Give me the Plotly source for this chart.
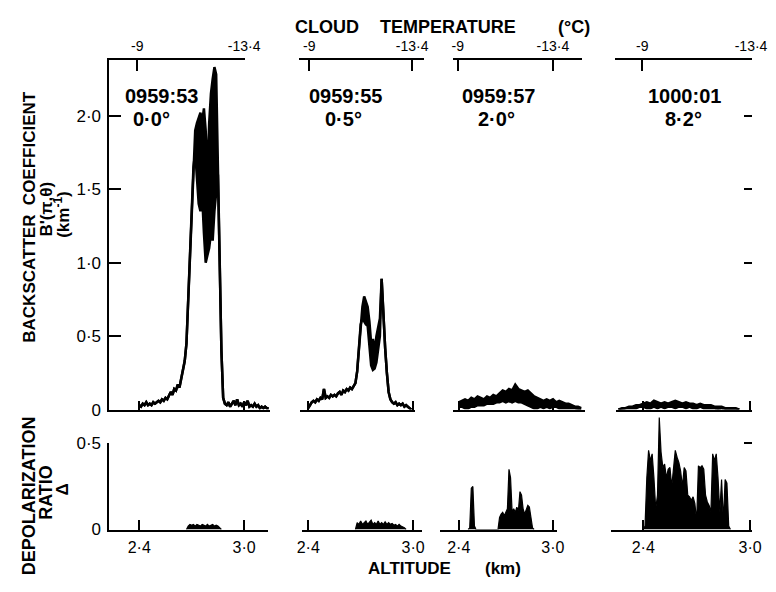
import plotly.graph_objects as go

# ---------------- data ----------------
# Column 1 (0959:53, 0.0 deg) backscatter
alt_bs1 = [2.40, 2.41, 2.42, 2.43, 2.44, 2.45, 2.46, 2.47, 2.48, 2.49,
           2.50, 2.51, 2.52, 2.53, 2.54, 2.55, 2.56, 2.57, 2.58, 2.59,
           2.60, 2.61, 2.62, 2.63, 2.64, 2.65, 2.66, 2.67, 2.68, 2.69,
           2.70, 2.71, 2.72, 2.73, 2.74, 2.75, 2.76, 2.77, 2.78, 2.79,
           2.80, 2.81, 2.82, 2.83, 2.84, 2.85, 2.86, 2.87, 2.88, 2.89,
           2.90, 2.91, 2.92, 2.93, 2.94, 2.95, 2.96, 2.97, 2.98, 2.99,
           3.00, 3.01, 3.02, 3.03, 3.04, 3.05, 3.06, 3.07, 3.08, 3.09,
           3.10, 3.11, 3.12, 3.13, 3.14]
bs1_hi = [0.03, 0.02, 0.04, 0.03, 0.05, 0.03, 0.04, 0.03, 0.05, 0.04,
          0.05, 0.06, 0.05, 0.07, 0.06, 0.08, 0.07, 0.10, 0.12, 0.10,
          0.14, 0.13, 0.17, 0.15, 0.22, 0.28, 0.33, 0.45, 0.75, 1.05,
          1.40, 1.65, 1.90, 1.95, 1.98, 2.02, 1.96, 2.05, 1.90, 1.60,
          1.95, 2.15, 2.25, 2.33, 2.28, 1.60, 1.00, 0.40, 0.08, 0.04,
          0.03, 0.05, 0.02, 0.04, 0.06, 0.03, 0.07, 0.03, 0.04, 0.02,
          0.05, 0.03, 0.06, 0.02, 0.03, 0.02, 0.04, 0.02, 0.03, 0.01,
          0.02, 0.01, 0.02, 0.01, 0.01]
bs1_band_start = 32
bs1_band_lo = [1.75, 1.55, 1.40, 1.35, 1.45, 1.20, 1.00, 1.05, 1.10, 1.20,
               1.15, 1.35, 1.50]

# Column 2 (0959:55, 0.5 deg)
alt_bs2 = [2.40, 2.41, 2.42, 2.43, 2.44, 2.45, 2.46, 2.47, 2.48, 2.49,
           2.50, 2.51, 2.52, 2.53, 2.54, 2.55, 2.56, 2.57, 2.58, 2.59,
           2.60, 2.61, 2.62, 2.63, 2.64, 2.65, 2.66, 2.67, 2.68, 2.69,
           2.70, 2.71, 2.72, 2.73, 2.74, 2.75, 2.76, 2.77, 2.78, 2.79,
           2.80, 2.81, 2.82, 2.83, 2.84, 2.85, 2.86, 2.87, 2.88, 2.89,
           2.90, 2.91, 2.92, 2.93, 2.94, 2.95, 2.96, 2.97, 2.98, 2.99]
bs2_hi = [0.01, 0.03, 0.05, 0.06, 0.05, 0.07, 0.06, 0.08, 0.07, 0.14,
          0.08, 0.09, 0.08, 0.10, 0.09, 0.10, 0.09, 0.11, 0.12, 0.10,
          0.13, 0.12, 0.14, 0.13, 0.15, 0.14, 0.16, 0.18, 0.26, 0.40,
          0.58, 0.70, 0.77, 0.74, 0.70, 0.60, 0.45, 0.48, 0.40, 0.50,
          0.55, 0.62, 0.89, 0.60, 0.42, 0.25, 0.12, 0.07, 0.05, 0.04,
          0.05, 0.03, 0.04, 0.03, 0.04, 0.02, 0.03, 0.02, 0.01, 0.00]
bs2_band_start = 31
bs2_band_lo = [0.62, 0.60, 0.58, 0.57, 0.40, 0.30, 0.27, 0.28, 0.32, 0.40, 0.50]

# Column 3 (0959:57, 2.0 deg)
alt_bs3 = [2.40, 2.42, 2.44, 2.46, 2.48, 2.50, 2.52, 2.54, 2.56, 2.58,
           2.60, 2.62, 2.64, 2.66, 2.68, 2.70, 2.72, 2.74, 2.76, 2.78,
           2.80, 2.82, 2.84, 2.86, 2.88, 2.90, 2.92, 2.94, 2.96, 2.98,
           3.00, 3.02, 3.04, 3.06, 3.08, 3.10, 3.12, 3.14, 3.16, 3.18]
bs3_hi = [0.05, 0.06, 0.07, 0.06, 0.08, 0.07, 0.09, 0.08, 0.07, 0.09,
          0.08, 0.10, 0.09, 0.11, 0.13, 0.12, 0.14, 0.13, 0.17, 0.14,
          0.13, 0.12, 0.13, 0.11, 0.09, 0.08, 0.07, 0.06, 0.07, 0.06,
          0.07, 0.05, 0.06, 0.05, 0.04, 0.04, 0.03, 0.02, 0.02, 0.01]
bs3_lo = [0.02, 0.02, 0.01, 0.01, 0.02, 0.02, 0.03, 0.03, 0.03, 0.04,
          0.04, 0.04, 0.05, 0.05, 0.06, 0.05, 0.06, 0.05, 0.06, 0.05,
          0.05, 0.04, 0.03, 0.02, 0.01, 0.01, 0.02, 0.01, 0.02, 0.01,
          0.02, 0.02, 0.01, 0.01, 0.01, 0.01, 0.01, 0.01, 0.00, 0.00]

# Column 4 (1000:01, 8.2 deg)
alt_bs4 = [2.26, 2.28, 2.30, 2.32, 2.34, 2.36, 2.38, 2.40, 2.42, 2.44,
           2.46, 2.48, 2.50, 2.52, 2.54, 2.56, 2.58, 2.60, 2.62, 2.64,
           2.66, 2.68, 2.70, 2.72, 2.74, 2.76, 2.78, 2.80, 2.82, 2.84,
           2.86, 2.88, 2.90, 2.92, 2.94]
bs4_hi = [0.00, 0.01, 0.01, 0.02, 0.02, 0.03, 0.03, 0.04, 0.05, 0.04,
          0.06, 0.05, 0.04, 0.05, 0.04, 0.05, 0.06, 0.05, 0.04, 0.05,
          0.04, 0.04, 0.03, 0.04, 0.03, 0.03, 0.03, 0.02, 0.02, 0.02,
          0.01, 0.01, 0.01, 0.01, 0.00]
bs4_lo = [0.00, 0.00, 0.01, 0.01, 0.01, 0.01, 0.02, 0.02, 0.01, 0.01,
          0.02, 0.01, 0.02, 0.01, 0.02, 0.02, 0.01, 0.02, 0.02, 0.01,
          0.02, 0.01, 0.01, 0.02, 0.01, 0.01, 0.01, 0.01, 0.00, 0.01,
          0.00, 0.00, 0.00, 0.00, 0.00]

# Depolarization ratio
alt_dp1 = [2.67, 2.68, 2.69, 2.70, 2.71, 2.72, 2.73, 2.74, 2.75, 2.76,
           2.77, 2.78, 2.79, 2.80, 2.81, 2.82, 2.83, 2.84, 2.85, 2.86, 2.87]
dp1 = [0.00, 0.02, 0.03, 0.025, 0.03, 0.02, 0.03, 0.025, 0.02, 0.03,
       0.025, 0.02, 0.03, 0.02, 0.025, 0.03, 0.02, 0.025, 0.02, 0.01, 0.00]

alt_dp2 = [2.67, 2.68, 2.69, 2.70, 2.71, 2.72, 2.73, 2.74, 2.75, 2.76,
           2.77, 2.78, 2.79, 2.80, 2.81, 2.82, 2.83, 2.84, 2.85, 2.86,
           2.87, 2.88, 2.89, 2.90, 2.91, 2.92, 2.93, 2.94, 2.95, 2.96]
dp2 = [0.00, 0.04, 0.03, 0.05, 0.03, 0.04, 0.05, 0.03, 0.04, 0.055,
       0.03, 0.04, 0.03, 0.05, 0.03, 0.04, 0.03, 0.045, 0.03, 0.04,
       0.03, 0.035, 0.025, 0.03, 0.02, 0.03, 0.02, 0.015, 0.01, 0.00]

alt_dp3 = [2.46, 2.47, 2.48, 2.49, 2.50, 2.51, 2.65, 2.66, 2.67, 2.68,
           2.69, 2.70, 2.71, 2.72, 2.73, 2.74, 2.75, 2.76, 2.77, 2.78,
           2.79, 2.80, 2.81, 2.82, 2.83, 2.84, 2.85, 2.86, 2.87, 2.88]
dp3 = [0.00, 0.01, 0.24, 0.25, 0.02, 0.00, 0.00, 0.07, 0.09, 0.10,
       0.08, 0.10, 0.12, 0.35, 0.30, 0.10, 0.12, 0.10, 0.13, 0.11,
       0.22, 0.20, 0.12, 0.09, 0.11, 0.14, 0.13, 0.06, 0.01, 0.00]

alt_dp4 = [2.40, 2.41, 2.42, 2.43, 2.44, 2.45, 2.46, 2.47, 2.48, 2.49,
           2.50, 2.51, 2.52, 2.53, 2.54, 2.55, 2.56, 2.57, 2.58, 2.59,
           2.60, 2.61, 2.62, 2.63, 2.64, 2.65, 2.66, 2.67, 2.68, 2.69,
           2.70, 2.71, 2.72, 2.73, 2.74, 2.75, 2.76, 2.77, 2.78, 2.79,
           2.80, 2.81, 2.82, 2.83, 2.84, 2.85, 2.86, 2.87, 2.88, 2.89]
dp4 = [0.00, 0.02, 0.30, 0.46, 0.40, 0.44, 0.30, 0.12, 0.20, 0.65,
       0.45, 0.36, 0.38, 0.30, 0.35, 0.36, 0.25, 0.38, 0.46, 0.42,
       0.39, 0.34, 0.25, 0.36, 0.34, 0.20, 0.19, 0.17, 0.19, 0.15,
       0.05, 0.37, 0.36, 0.37, 0.35, 0.20, 0.16, 0.14, 0.10, 0.44,
       0.40, 0.44, 0.30, 0.10, 0.29, 0.05, 0.29, 0.27, 0.02, 0.00]

panel_times = ["0959:53", "0959:55", "0959:57", "1000:01"]
panel_angles = ["0·0°", "0·5°", "2·0°", "8·2°"]
bs_ticks = [0, 0.5, 1.0, 1.5, 2.0]
bs_ticktext = ["0", "0·5", "1·0", "1·5", "2·0"]
dp_ticks = [0, 0.5]
dp_ticktext = ["0", "0·5"]
alt_ticks = [2.4, 3.0]
alt_ticktext = ["2·4", "3·0"]
temp_ticks = [-9, -13.4]
temp_ticktext = ["-9", "-13·4"]

# ---------------- layout geometry (window pixels) ----------------
PAGE_W, PAGE_H = 776, 592
OFF = 8                       # default page margin around the figure div
W, H = PAGE_W - 2 * OFF, PAGE_H - 2 * OFF   # figure fits the window exactly
XMAX = OFF + W
FONT = "Liberation Sans, Arial, sans-serif"
cols = [
    dict(at=(137, 245), top=(106, 272), bot=(106, 270), tt=(135, 245), tl=(104, 246)),
    dict(at=(311, 419), top=(303, 421), bot=(305, 428), tt=(312, 418), tl=(302, 430)),
    dict(at=(466, 563), top=(460, 596), bot=(447, 567), tt=(465, 563), tl=(460, 593)),
    dict(at=(656, 766), top=(628, XMAX), bot=(623, XMAX), tt=(655, 767), tl=(627, XMAX)),
]
TOP_Y0, TOP_Y1, BS_SCALE = 414, 52, 152.0     # backscatter: 0 at 414 px
BOT_Y0, DP_SCALE = 538, 178.0                  # depolarization: 0 at 538 px


def xp(p):
    return (p - OFF) / W


def yp(p):
    return 1 - (p - OFF) / H


def lin_range(L, R, a, b, va, vb):
    s = (b - a) / (vb - va)
    return [va - (a - L) / s, vb + (R - b) / s]


ax_common = dict(showgrid=False, zeroline=False, linecolor="black", linewidth=1.5,
                 tickcolor="black", tickwidth=1.5, ticks="inside",
                 tickfont=dict(family=FONT, size=17, color="black"))

fig = go.Figure()
layout = {}

top_sets = [
    (alt_bs1, bs1_hi, bs1_hi[:bs1_band_start] + bs1_band_lo + bs1_hi[bs1_band_start + len(bs1_band_lo):]),
    (alt_bs2, bs2_hi, bs2_hi[:bs2_band_start] + bs2_band_lo + bs2_hi[bs2_band_start + len(bs2_band_lo):]),
    (alt_bs3, bs3_hi, bs3_lo),
    (alt_bs4, bs4_hi, bs4_lo),
]
bot_sets = [(alt_dp1, dp1), (alt_dp2, dp2), (alt_dp3, dp3), (alt_dp4, dp4)]


def nm(prefix, n):
    return prefix if n == 1 else f"{prefix}{n}"


for i, c in enumerate(cols):
    xt, yt = i + 1, i + 1          # top row axes
    xb, yb = i + 5, i + 5          # bottom row axes
    xtemp = i + 9                  # temperature axes

    # ---- top row: backscatter ----
    alt, hi, lo = top_sets[i]
    fig.add_trace(go.Scatter(x=alt, y=lo, mode="lines", line=dict(color="black", width=2.5),
                             xaxis=nm("x", xt), yaxis=nm("y", yt), showlegend=False,
                             hoverinfo="skip"))
    fig.add_trace(go.Scatter(x=alt, y=hi, mode="lines", line=dict(color="black", width=2.5),
                             fill="tonexty", fillcolor="black",
                             xaxis=nm("x", xt), yaxis=nm("y", yt), showlegend=False,
                             hoverinfo="skip"))
    layout[nm("xaxis", xt)] = dict(
        ax_common, domain=[xp(c["top"][0]), xp(c["top"][1])],
        range=lin_range(c["top"][0], c["top"][1], c["at"][0], c["at"][1], 2.4, 3.0),
        anchor=nm("y", yt), showline=True, tickvals=alt_ticks, showticklabels=False,
        ticklen=9)
    yr = [0, (TOP_Y0 - TOP_Y1) / BS_SCALE]
    ydict = dict(ax_common, domain=[yp(TOP_Y0), yp(TOP_Y1)], range=yr, anchor=nm("x", xt))
    if i == 0:
        ydict.update(showline=True, tickvals=bs_ticks, ticktext=bs_ticktext, ticklen=12,
                     ticklabelstandoff=3)
    elif i == 3:
        ydict.update(side="right", showline=False, tickvals=bs_ticks[1:],
                     showticklabels=False, ticklen=8, tickwidth=2)
    else:
        ydict.update(visible=False)
    layout[nm("yaxis", yt)] = ydict

    # ---- temperature axis on top (empty carrier trace so the axis is drawn) ----
    fig.add_trace(go.Scatter(x=temp_ticks, y=[None, None], mode="markers",
                             marker=dict(opacity=0), xaxis=nm("x", xtemp),
                             yaxis=nm("y", yt), showlegend=False, hoverinfo="skip"))
    layout[nm("xaxis", xtemp)] = dict(
        ax_common, domain=[xp(c["tl"][0]), xp(c["tl"][1])],
        range=lin_range(c["tl"][0], c["tl"][1], c["tt"][0], c["tt"][1], -9, -13.4),
        anchor=nm("y", yt), side="top", showline=True, tickvals=temp_ticks,
        ticktext=temp_ticktext, ticklen=12, ticklabelstandoff=1,
        tickfont=dict(family=FONT, size=14, color="black"))

    # ---- bottom row: depolarization ----
    dalt, dval = bot_sets[i]
    fig.add_trace(go.Scatter(x=dalt, y=dval, mode="lines", line=dict(color="black", width=1.2),
                             fill="tozeroy", fillcolor="black",
                             xaxis=nm("x", xb), yaxis=nm("y", yb), showlegend=False,
                             hoverinfo="skip"))
    layout[nm("xaxis", xb)] = dict(
        ax_common, domain=[xp(c["bot"][0]), xp(c["bot"][1])],
        range=lin_range(c["bot"][0], c["bot"][1], c["at"][0], c["at"][1], 2.4, 3.0),
        anchor=nm("y", yb), showline=True, tickvals=alt_ticks, ticktext=alt_ticktext,
        ticklen=10, ticklabelstandoff=3,
        tickfont=dict(family=FONT, size=16, color="black"))
    top_px = 418 if i == 3 else 449
    ydict = dict(ax_common, domain=[yp(BOT_Y0), yp(top_px)],
                 range=[0, (BOT_Y0 - top_px) / DP_SCALE], anchor=nm("x", xb))
    if i == 0:
        ydict.update(showline=True, tickvals=dp_ticks, ticktext=dp_ticktext, ticklen=10,
                     ticklabelstandoff=3)
    elif i == 3:
        ydict.update(side="right", showline=False, tickvals=[0.5], showticklabels=False,
                     ticklen=8, tickwidth=2)
    else:
        ydict.update(visible=False)
    layout[nm("yaxis", yb)] = ydict

# ---------------- text ----------------
ann = []


def add_text(text, x, y, size=16, angle=0):
    ann.append(dict(text=text, x=xp(x), y=yp(y), xref="paper", yref="paper",
                    showarrow=False, xanchor="center", yanchor="middle", textangle=angle,
                    font=dict(family=FONT, size=size, color="black")))


add_text("<b>CLOUD</b>", 330, 18, 18)
add_text("<b>TEMPERATURE</b>", 455, 18, 18)
add_text("<b>(°C)</b>", 585, 18, 18)
add_text("<b>ALTITUDE</b>", 415, 578, 17)
add_text("<b>(km)</b>", 512, 578, 17)
add_text("<b>BACKSCATTER  COEFFICIENT</b>", 24, 215, 17, -90)
add_text("<b>B'(π,θ)</b>", 41, 207, 17, -90)
add_text("<b>(km<sup>-1</sup>)</b>", 58, 213, 17, -90)
add_text("<b>DEPOLARIZATION</b>", 23, 503, 18, -90)
add_text("<b>RATIO</b>", 41, 500, 18, -90)
add_text("<b>Δ</b>", 58, 497, 17, -90)

tx = [(160, 150), (349, 347), (507, 505), (699, 697)]
for (x1, x2), t, a in zip(tx, panel_times, panel_angles):
    add_text(f"<b>{t}</b>", x1, 90, 20)
    add_text(f"<b>{a}</b>", x2, 113, 20)

fig.update_layout(**layout)
fig.update_layout(width=W, height=H, autosize=False, margin=dict(l=0, r=0, t=0, b=0),
                  paper_bgcolor="white", plot_bgcolor="rgba(0,0,0,0)", annotations=ann,
                  showlegend=False)

fig.write_html("out.html")
